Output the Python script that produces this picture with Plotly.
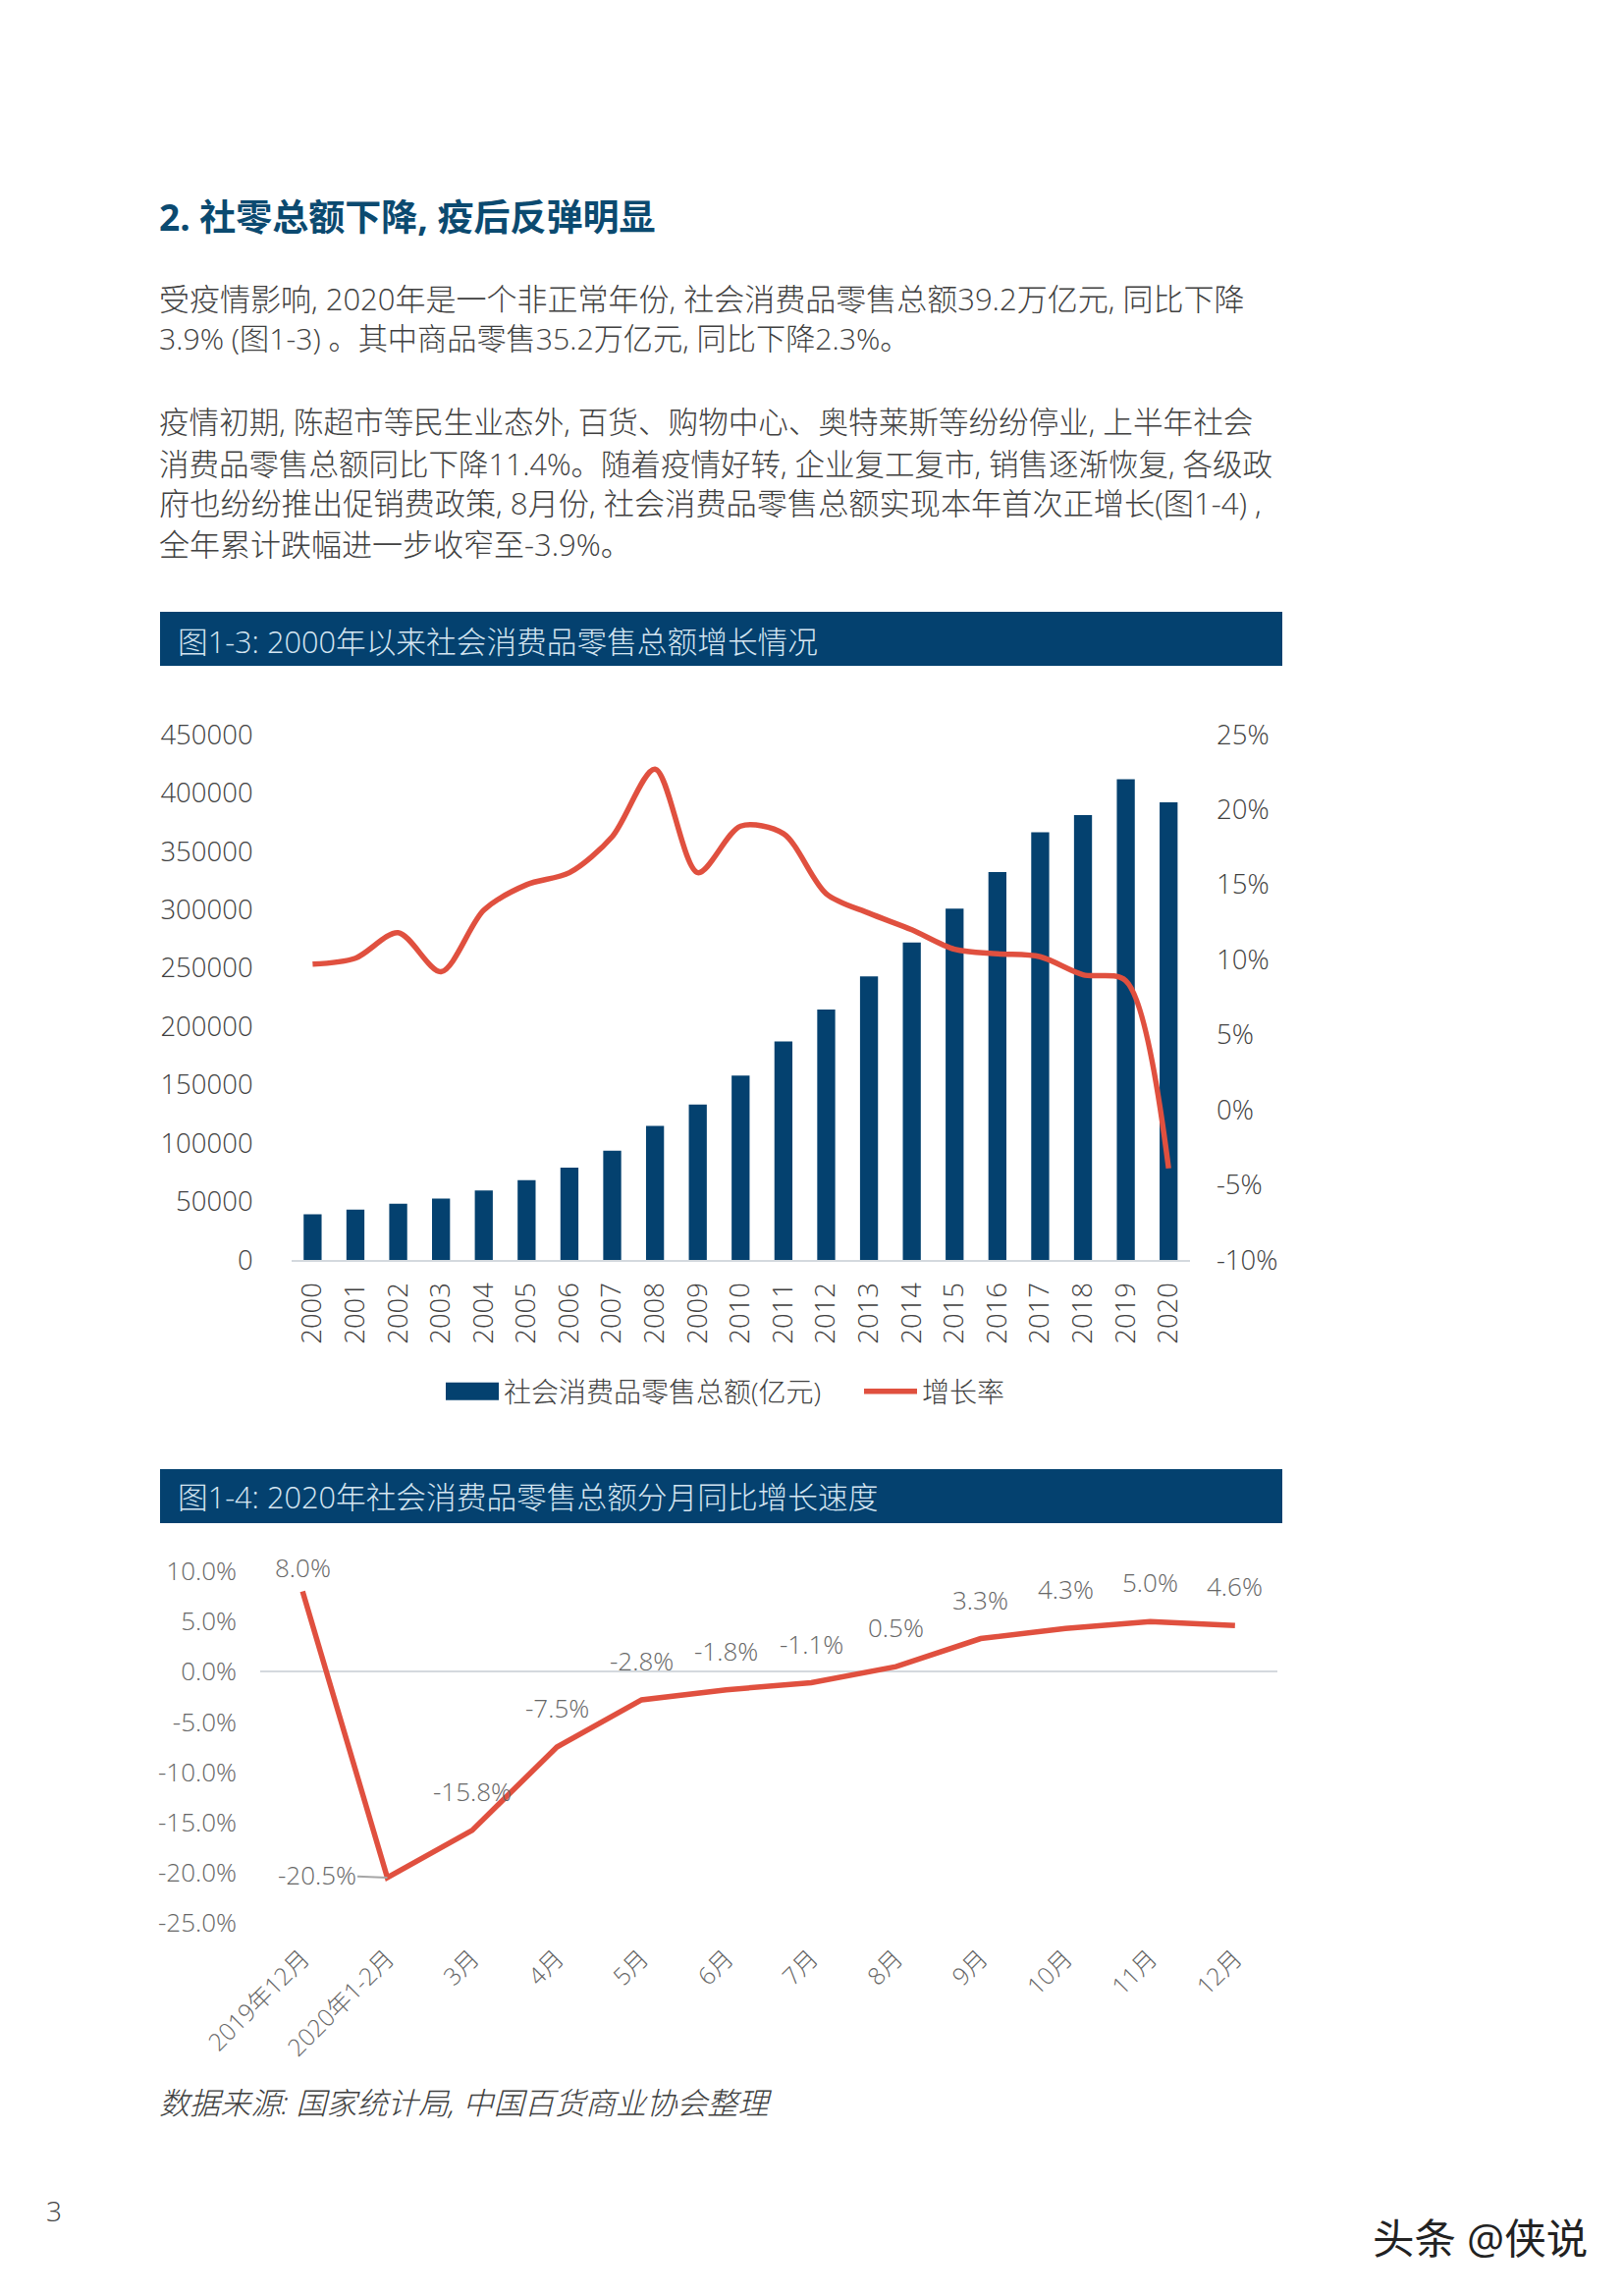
import plotly.graph_objects as go

W, H = 1653, 2338

# ---------- data ----------
years = [str(y) for y in range(2000, 2021)]
retail_total = [39100, 43050, 48100, 52500, 59500, 68350, 79150, 93570, 114830, 133050,
                158000, 187200, 214430, 242840, 271900, 300930, 332300, 366260, 381000, 411650, 392000]
growth_rate = [9.7, 10.1, 11.8, 9.2, 13.3, 15.0, 15.8, 18.2, 22.7, 15.8,
               18.9, 18.4, 14.4, 13.1, 12.0, 10.7, 10.4, 10.2, 9.0, 8.6, -3.9]
months = ["2019年12月", "2020年1-2月", "3月", "4月", "5月", "6月", "7月", "8月", "9月", "10月", "11月", "12月"]
monthly_growth = [8.0, -20.5, -15.8, -7.5, -2.8, -1.8, -1.1, 0.5, 3.3, 4.3, 5.0, 4.6]
left_ticks = [0, 50000, 100000, 150000, 200000, 250000, 300000, 350000, 400000, 450000]
right_ticks = [-10, -5, 0, 5, 10, 15, 20, 25]
monthly_ticks = [10, 5, 0, -5, -10, -15, -20, -25]

heading = "<b>2. 社零总额下降, 疫后反弹明显</b>"
body_lines = [
    "受疫情影响, 2020年是一个非正常年份, 社会消费品零售总额39.2万亿元, 同比下降",
    "3.9% (图1-3) 。其中商品零售35.2万亿元, 同比下降2.3%。",
    "疫情初期, 陈超市等民生业态外, 百货、购物中心、奥特莱斯等纷纷停业, 上半年社会",
    "消费品零售总额同比下降11.4%。随着疫情好转, 企业复工复市, 销售逐渐恢复, 各级政",
    "府也纷纷推出促销费政策, 8月份, 社会消费品零售总额实现本年首次正增长(图1-4) ,",
    "全年累计跌幅进一步收窄至-3.9%。",
]
body_y = [304, 345, 429, 472, 512, 554]
body_size = [31, 30.2, 30.6, 30.5, 31.2, 31]
title_3 = "图1-3: 2000年以来社会消费品零售总额增长情况"
title_4 = "图1-4: 2020年社会消费品零售总额分月同比增长速度"
source = "<i>数据来源: 国家统计局, 中国百货商业协会整理</i>"

# ---------- styles ----------
FONT = "'Open Sans', 'Noto Sans CJK SC', sans-serif"
NAVY = "#04416f"
RED = "#e0503f"
INK = "#404040"
GREY = "#666666"
AXIS = "#d4d9de"


def px(x):
    return x / W


def py(y):
    return 1 - y / H


def page_text(text, x, y, size, color=INK, weight=300):
    return dict(text=text, xref="paper", yref="paper", x=px(x), y=py(y), xanchor="left", yanchor="middle",
                showarrow=False, align="left", font=dict(family=FONT, size=size, color=color, weight=weight))


fig = go.Figure()

# Figure 1-3
fig.add_trace(go.Bar(x=years, y=retail_total, xaxis="x", yaxis="y", marker_color=NAVY, marker_line_width=0,
                     showlegend=False, name="社会消费品零售总额(亿元)"))
fig.add_trace(go.Scatter(x=[None], y=[None], xaxis="x", yaxis="y", mode="lines", name="社会消费品零售总额(亿元)",
                         line=dict(color=NAVY, width=18)))
fig.add_trace(go.Scatter(x=years, y=growth_rate, xaxis="x", yaxis="y2", mode="lines", name="增长率",
                         line=dict(color=RED, width=5.5, shape="spline", smoothing=0.85)))

# Figure 1-4
fig.add_trace(go.Scatter(x=months, y=monthly_growth, xaxis="x2", yaxis="y3", mode="lines", showlegend=False,
                         line=dict(color=RED, width=5.5)))

annotations = [page_text(heading, 160, 220, 37, "#0b4a70", 700)]
annotations += [page_text(t, 160, y, s) for t, y, s in zip(body_lines, body_y, body_size)]
annotations += [
    page_text(title_3, 179, 653, 30.7, "#d5e6f2"),
    page_text(title_4, 179, 1524, 30.7, "#d5e6f2"),
    page_text(source, 160, 2141, 31.1),
    page_text("3", 45, 2251, 28, "#444444", 300),
    page_text("头条 @侠说", 1396, 2278, 42.5, "#222222", 400),
]

for i, (m, v) in enumerate(zip(months, monthly_growth)):
    label = f"{v:.1f}%"
    common = dict(x=m, y=v, xref="x2", yref="y3", text=label,
                  font=dict(family=FONT, size=26, color=GREY, weight=300))
    if i == 1:
        annotations.append(dict(common, showarrow=True, arrowhead=0, arrowwidth=2, arrowcolor="#a6a6a6",
                                ax=-72, ay=-3, standoff=0))
    else:
        annotations.append(dict(common, showarrow=False, yshift=24 if i == 0 else 40))

panel = dict(type="rect", xref="paper", yref="paper", x0=px(163), x1=px(1306), fillcolor=NAVY,
             line_width=0, layer="below")
shapes = [dict(panel, y0=py(678), y1=py(623)), dict(panel, y0=py(1551), y1=py(1496))]

tick_font = dict(family=FONT, size=27.5, color=INK, weight=300)
small_font = dict(family=FONT, size=26, color=GREY, weight=300)

fig.update_layout(
    width=W, height=H, autosize=False, margin=dict(l=0, r=0, t=0, b=0, autoexpand=False),
    paper_bgcolor="white", plot_bgcolor="rgba(0,0,0,0)",
    font=dict(family=FONT, color=INK), bargap=0.58,
    annotations=annotations, shapes=shapes,
    legend=dict(orientation="h", x=px(449), y=py(1417), xanchor="left", yanchor="middle",
                font=dict(family=FONT, size=28, color=INK, weight=300), itemwidth=54,
                entrywidth=357, entrywidthmode="pixels", tracegroupgap=0, bgcolor="rgba(0,0,0,0)"),
    xaxis=dict(domain=[px(296.6), px(1212)], anchor="y", type="category", range=[-0.5, 20.5], tickangle=-90,
               tickfont=dict(family=FONT, size=27.5, color=INK, weight=300), ticks="", showgrid=False,
               showline=True, linecolor=AXIS, linewidth=2, ticklabelstandoff=10),
    yaxis=dict(domain=[py(1283), py(748)], anchor="x", range=[0, 450000], tickvals=left_ticks, tickformat="d",
               tickfont=tick_font, ticks="", showgrid=False, showline=False, zeroline=False, ticklabelstandoff=38),
    yaxis2=dict(domain=[py(1283), py(748)], anchor="x", overlaying="y", side="right", range=[-10, 25],
                tickvals=right_ticks, ticktext=[f"{t}%" for t in right_ticks], tickfont=tick_font, ticks="",
                showgrid=False, showline=False, zeroline=False, ticklabelstandoff=26),
    xaxis2=dict(domain=[px(265), px(1301)], anchor="y3", type="category", range=[-0.5, 11.5], tickangle=-45,
                tickfont=dict(family=FONT, size=24.5, color=GREY, weight=300), ticks="", showgrid=False,
                showline=False, ticklabelstandoff=16),
    yaxis3=dict(domain=[py(1958), py(1600)], anchor="x2", range=[-25, 10], tickvals=monthly_ticks,
                ticktext=[f"{t:.1f}%" for t in monthly_ticks], tickfont=small_font, ticks="", showgrid=False,
                showline=False, zeroline=True, zerolinecolor=AXIS, zerolinewidth=2, ticklabelstandoff=23),
)

fig.write_html("out.html",
               post_script="document.body.style.margin='0';document.documentElement.style.overflow='hidden';"
                           "setTimeout(function(){var p=document.querySelector('.legendlines path');"
                           "if(p){p.style.strokeWidth='18px';}},50);",
               config={"displayModeBar": False})
